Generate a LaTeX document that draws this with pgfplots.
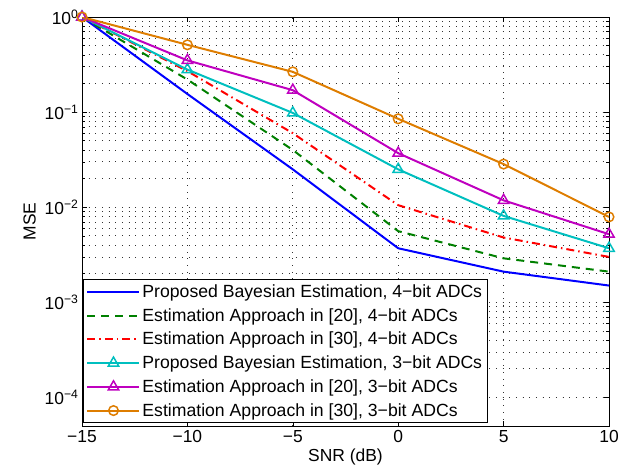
\documentclass[border=0pt]{standalone}
\usepackage{fontspec}
\setmainfont{Liberation Sans}
\usepackage{pgfplots}
\pgfplotsset{compat=1.18}
\definecolor{cblue}{rgb}{0,0,1}
\definecolor{cgreen}{rgb}{0,0.5,0}
\definecolor{cred}{rgb}{1,0,0}
\definecolor{ccyan}{rgb}{0,0.75,0.75}
\definecolor{cmag}{rgb}{0.75,0,0.75}
\definecolor{corange}{rgb}{0.87,0.49,0}
\begin{document}
\begin{tikzpicture}
\begin{axis}[
  scale only axis,
  width=527bp, height=409bp,
  xmin=-15, xmax=10,
  ymode=log, ymin=5e-5, ymax=1,
  xtick={-15,-10,-5,0,5,10},
  xticklabels={−15,−10,−5,0,5,10},
  ytick={1e-4,1e-3,1e-2,1e-1,1},
  yticklabels={10\textsuperscript{−4},10\textsuperscript{−3},10\textsuperscript{−2},10\textsuperscript{−1},10\textsuperscript{0}},
  tick align=inside,
  tick style={black, line width=0.6pt},
  major tick length=5bp, minor tick length=3bp,
  xmajorgrids, ymajorgrids, yminorgrids,
  major grid style={black!80, line width=0.7pt, dash pattern=on 0.7pt off 6pt},
  minor grid style={black!80, line width=0.7pt, dash pattern=on 0.7pt off 6pt},
  axis line style={black, line width=0.9pt},
  ticklabel style={font=\fontsize{17.5}{20}\selectfont},
  label style={font=\fontsize{17.5}{20}\selectfont},
  xticklabel style={yshift=-1bp},
  xlabel={SNR (dB)}, ylabel={MSE},
  xlabel style={yshift=1bp},
  ylabel style={yshift=2bp},
  legend style={at={(rel axis cs:0.002,0.007)}, anchor=south west,
    font=\fontsize{17.7}{20}\selectfont, draw=black, line width=0.9pt,
    row sep=5.5bp, inner sep=3bp},
  legend cell align=left,
  legend image code/.code={%
    \draw[mark repeat=2,mark phase=2] plot coordinates {(0bp,0bp) (26bp,0bp) (52bp,0bp)};},
]
\addplot[cblue, solid, line width=2pt] coordinates {(-15,1) (-10,0.155) (-5,0.025) (0,0.0037) (5,0.0021) (10,0.0015)};
\addlegendentry{Proposed Bayesian Estimation, 4−bit ADCs}
\addplot[cgreen, line width=2pt, dash pattern=on 8bp off 6bp] coordinates {(-15,1) (-10,0.22) (-5,0.04) (0,0.0056) (5,0.0029) (10,0.0021)};
\addlegendentry{Estimation Approach in [20], 4−bit ADCs}
\addplot[cred, line width=2pt, dash pattern=on 8bp off 4bp on 1.5bp off 4bp] coordinates {(-15,1) (-10,0.27) (-5,0.06) (0,0.0105) (5,0.0048) (10,0.0030)};
\addlegendentry{Estimation Approach in [30], 4−bit ADCs}
\addplot[ccyan, line width=2pt, mark=triangle, mark size=6bp, mark options={solid, line width=1.5pt}] coordinates {(-15,1) (-10,0.28) (-5,0.098) (0,0.025) (5,0.0081) (10,0.0037)};
\addlegendentry{Proposed Bayesian Estimation, 3−bit ADCs}
\addplot[cmag, line width=2pt, mark=triangle, mark size=6bp, mark options={solid, line width=1.5pt}] coordinates {(-15,1) (-10,0.35) (-5,0.17) (0,0.037) (5,0.0118) (10,0.0052)};
\addlegendentry{Estimation Approach in [20], 3−bit ADCs}
\addplot[corange, line width=2pt, mark=o, mark size=4.8bp, mark options={solid, line width=1.5pt}] coordinates {(-15,1) (-10,0.51) (-5,0.265) (0,0.085) (5,0.0284) (10,0.0079)};
\addlegendentry{Estimation Approach in [30], 3−bit ADCs}
\coordinate (ll) at (rel axis cs:0,0);
\coordinate (ur) at (rel axis cs:1,1);
\end{axis}
\path (ll) ++(-82bp,-47bp);
\path (ur) ++(17bp,17bp);
\end{tikzpicture}
\end{document}
